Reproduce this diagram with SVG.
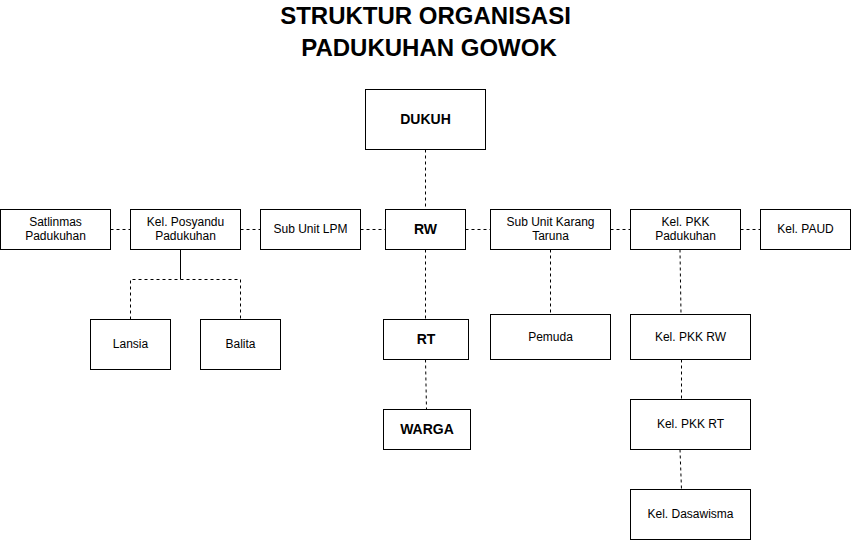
<svg xmlns="http://www.w3.org/2000/svg" width="851" height="540" viewBox="0 0 851 540">
<style>
.box{fill:#ffffff;stroke:#000000;stroke-width:1}
.t{font-family:"Liberation Sans",Arial,sans-serif;font-size:12px;fill:#000000;text-anchor:middle}
.b{font-family:"Liberation Sans",Arial,sans-serif;font-size:14px;font-weight:bold;fill:#000000;text-anchor:middle}
.title{font-family:"Liberation Sans",Arial,sans-serif;font-size:24px;font-weight:bold;fill:#000000;text-anchor:middle}
.d{fill:none;stroke:#000000;stroke-width:1;stroke-dasharray:3 3}
.s{fill:none;stroke:#000000;stroke-width:1}
</style>
<rect width="851" height="540" fill="#ffffff"/>
<g id="title">
<text class="title" x="425.5" y="23.5">STRUKTUR ORGANISASI</text>
<text class="title" x="429" y="55.5">PADUKUHAN GOWOK</text>
</g>
<g id="connectors">
<line class="d" x1="110.5" y1="229.5" x2="130.5" y2="229.5"/>
<line class="d" x1="240.5" y1="229.5" x2="260.5" y2="229.5"/>
<line class="d" x1="360.5" y1="229.5" x2="385.5" y2="229.5"/>
<line class="d" x1="465.5" y1="229.5" x2="490.5" y2="229.5"/>
<line class="d" x1="610.5" y1="229.5" x2="630.5" y2="229.5"/>
<line class="d" x1="740.5" y1="229.5" x2="760.5" y2="229.5"/>
<line class="d" x1="425.5" y1="149.5" x2="425.5" y2="209.5"/>
<line class="d" x1="425.5" y1="249.5" x2="425.5" y2="319.5"/>
<line class="d" x1="425.5" y1="359.5" x2="426.5" y2="409.5"/>
<line class="s" x1="180.5" y1="249.5" x2="180.5" y2="279.5"/>
<polyline class="d" points="130.5,319.5 130.5,279.5 240.5,279.5 240.5,319.5"/>
<line class="d" x1="550.5" y1="249.5" x2="550.5" y2="314.5"/>
<line class="d" x1="680" y1="249.5" x2="681" y2="314.5"/>
<line class="d" x1="681.5" y1="359.5" x2="681.5" y2="399.5"/>
<line class="d" x1="680" y1="449.5" x2="681.5" y2="489.5"/>
</g>
<g id="dukuh"><rect class="box" x="365.5" y="89.5" width="120" height="60"/><text class="b" x="425.5" y="123.8">DUKUH</text></g>
<g id="satlinmas"><rect class="box" x="0.5" y="209.5" width="110" height="40"/><text class="t" x="55.5" y="225.5">Satlinmas</text><text class="t" x="55.5" y="239.5">Padukuhan</text></g>
<g id="posyandu"><rect class="box" x="130.5" y="209.5" width="110" height="40"/><text class="t" x="185.5" y="225.5">Kel. Posyandu</text><text class="t" x="185.5" y="239.5">Padukuhan</text></g>
<g id="lpm"><rect class="box" x="260.5" y="209.5" width="100" height="40"/><text class="t" x="310.5" y="233">Sub Unit LPM</text></g>
<g id="rw"><rect class="box" x="385.5" y="209.5" width="80" height="40"/><text class="b" x="425.5" y="233.8">RW</text></g>
<g id="karang-taruna"><rect class="box" x="490.5" y="209.5" width="120" height="40"/><text class="t" x="550.5" y="225.5">Sub Unit Karang</text><text class="t" x="550.5" y="239.5">Taruna</text></g>
<g id="pkk-padukuhan"><rect class="box" x="630.5" y="209.5" width="110" height="40"/><text class="t" x="685.5" y="225.5">Kel. PKK</text><text class="t" x="685.5" y="239.5">Padukuhan</text></g>
<g id="paud"><rect class="box" x="760.5" y="209.5" width="90" height="40"/><text class="t" x="805.5" y="233">Kel. PAUD</text></g>
<g id="lansia"><rect class="box" x="90.5" y="319.5" width="80" height="50"/><text class="t" x="130.5" y="348">Lansia</text></g>
<g id="balita"><rect class="box" x="200.5" y="319.5" width="80" height="50"/><text class="t" x="240.5" y="348">Balita</text></g>
<g id="rt"><rect class="box" x="383.5" y="319.5" width="85" height="40"/><text class="b" x="426" y="343.8">RT</text></g>
<g id="warga"><rect class="box" x="383.5" y="409.5" width="87" height="40"/><text class="b" x="427" y="433.8">WARGA</text></g>
<g id="pemuda"><rect class="box" x="490.5" y="314.5" width="120" height="45"/><text class="t" x="550.5" y="340.5">Pemuda</text></g>
<g id="pkk-rw"><rect class="box" x="630.5" y="314.5" width="120" height="45"/><text class="t" x="690.5" y="340.5">Kel. PKK RW</text></g>
<g id="pkk-rt"><rect class="box" x="630.5" y="399.5" width="120" height="50"/><text class="t" x="690.5" y="428">Kel. PKK RT</text></g>
<g id="dasawisma"><rect class="box" x="630.5" y="489.5" width="120" height="50"/><text class="t" x="690.5" y="518">Kel. Dasawisma</text></g>
</svg>
